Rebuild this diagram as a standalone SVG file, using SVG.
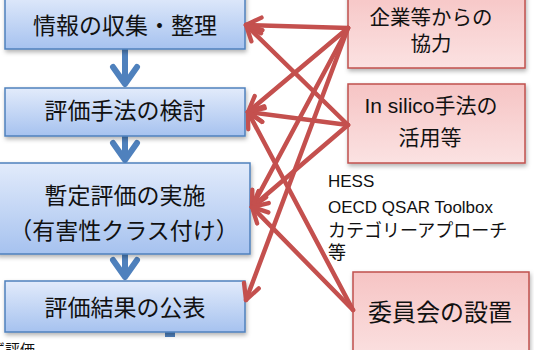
<svg xmlns="http://www.w3.org/2000/svg" width="534" height="350" viewBox="0 0 534 350">
<defs>
<linearGradient id="gb" x1="0" y1="0" x2="0" y2="1">
<stop offset="0" stop-color="#e2ebfb"/>
<stop offset="1" stop-color="#a6c2ef"/>
</linearGradient>
<linearGradient id="gr" x1="0" y1="0" x2="0" y2="1">
<stop offset="0" stop-color="#f6c4c4"/>
<stop offset="1" stop-color="#fbe2e2"/>
</linearGradient>
<filter id="sh" x="-10%" y="-10%" width="130%" height="140%">
<feDropShadow dx="1" dy="2.5" stdDeviation="2" flood-color="#000" flood-opacity="0.3"/>
</filter>
<marker id="ah" viewBox="0 0 10 10" refX="8.6" refY="5" markerWidth="4.6" markerHeight="4.6" orient="auto" markerUnits="strokeWidth">
<path d="M1.2,1.2 L8.6,5 L1.2,8.8" fill="none" stroke="#c4504e" stroke-width="2.1" stroke-linecap="round" stroke-linejoin="round"/>
</marker>
</defs>
<style>
.lb{fill:url(#gb);stroke:#4f81bd;stroke-width:1.5;filter:url(#sh)}
.rb{fill:url(#gr);stroke:#c0504d;stroke-width:1.5;filter:url(#sh)}
.t{font-family:"Noto Sans CJK JP","Liberation Sans",sans-serif;fill:#111;text-anchor:middle}
.s{font-family:"Liberation Sans","Noto Sans CJK JP",sans-serif;fill:#111}
.ra{stroke:#c4504e;stroke-width:4.5;fill:none;stroke-linecap:round;marker-end:url(#ah)}
.ba{stroke:#4f81bd;stroke-width:6;fill:none;stroke-linecap:round;stroke-linejoin:round}
</style>
<rect width="534" height="350" fill="#ffffff"/>

<g id="flow-arrows">
<path class="ba" d="M125,49 L125,83 M113,67 L125,84 L137,67"/>
<path class="ba" d="M125,136 L125,159 M113,143 L125,160 L137,143"/>
<path class="ba" d="M125,254 L125,276 M113,260 L125,277 L137,260"/>
<path d="M170,332 L170,337" stroke="#4f81bd" stroke-width="10" fill="none"/>
</g>

<g id="n1"><rect class="lb" x="5" y="-6" width="240" height="55"/>
<text class="t" x="125" y="34" font-size="23">情報の収集・整理</text></g>
<g id="n2"><rect class="lb" x="5" y="88" width="240" height="48"/>
<text class="t" x="125" y="119" font-size="23">評価手法の検討</text></g>
<g id="n3"><rect class="lb" x="-3" y="163" width="253" height="91"/>
<text class="t" x="125" y="204" font-size="23">暫定評価の実施</text>
<text class="t" x="124" y="239" font-size="23">（有害性クラス付け）</text></g>
<g id="n4"><rect class="lb" x="5" y="281" width="240" height="51"/>
<text class="t" x="125" y="316" font-size="23">評価結果の公表</text></g>

<g id="nA"><rect class="rb" x="348" y="-12" width="177" height="80"/>
<text class="t" x="431" y="25" font-size="20.5">企業等からの</text>
<text class="t" x="431" y="51" font-size="20.5">協力</text></g>
<g id="nB"><rect class="rb" x="348" y="84" width="177" height="79"/>
<text class="t" x="431" y="113" font-size="21" style="font-family:'Liberation Sans','Noto Sans CJK JP',sans-serif">In silico手法の</text>
<text class="t" x="430" y="145" font-size="21">活用等</text></g>
<g id="nC"><rect class="rb" x="353" y="272" width="176" height="90"/>
<text class="t" x="440" y="321" font-size="24">委員会の設置</text></g>

<g id="connectors">
<path class="ra" d="M348,28 L246,25"/>
<path class="ra" d="M348,28 L248,112"/>
<path class="ra" d="M348,28 L252,207"/>
<path class="ra" d="M348,28 L246,300"/>
<path class="ra" d="M348,125 L246,25"/>
<path class="ra" d="M348,125 L248,112"/>
<path class="ra" d="M348,125 L252,207"/>
<path class="ra" d="M353,310 L248,112"/>
<path class="ra" d="M353,310 L252,207"/>
</g>

<g id="note">
<text class="s" x="328" y="187" font-size="17">HESS</text>
<text class="s" x="328" y="213" font-size="17">OECD QSAR Toolbox</text>
<text class="s" x="328" y="237" font-size="18">カテゴリーアプローチ</text>
<text class="s" x="328" y="259" font-size="18">等</text>
</g>
<text class="s" x="-10" y="355" font-size="15">ず評価</text>
</svg>
